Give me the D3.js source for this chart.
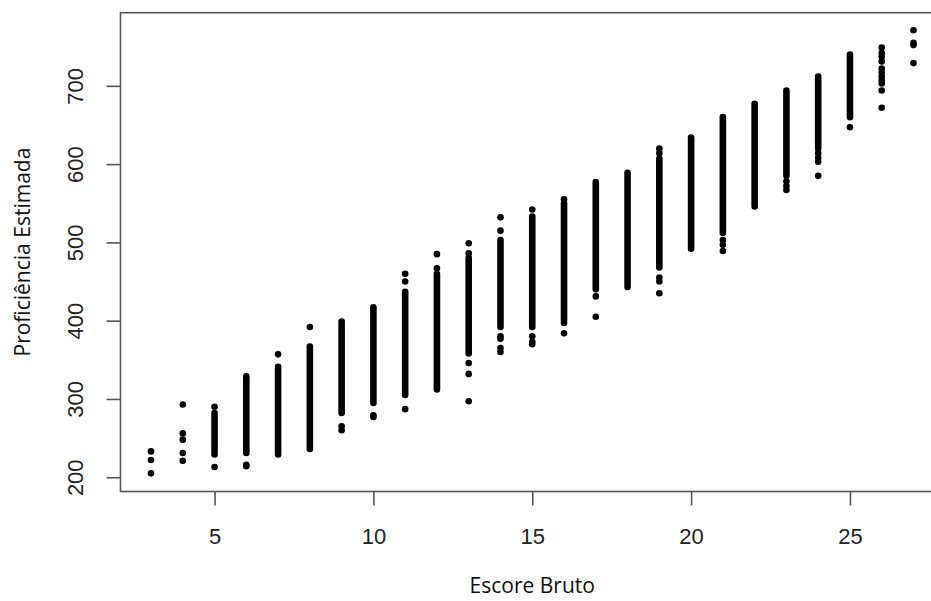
<!DOCTYPE html>
<html>
<head>
<meta charset="utf-8">
<script src="https://cdn.jsdelivr.net/npm/d3@7"></script>
<style>
  body { margin: 0; background: #fff; }
  svg { display: block; }
</style>
</head>
<body>
<svg id="chart" width="931" height="601"></svg>
<script>
// raw score on the x axis
var scores = [3, 4, 5, 6, 7, 8, 9, 10, 11, 12, 13, 14, 15, 16, 17, 18, 19, 20, 21, 22, 23, 24, 25, 26, 27];
// solid part of each column (points so packed they merge), null when none
var denseLow  = [null, null, 229, 231, 229, 236, 282, 295, 305, 312, 358, 392, 392, 400, 440, 447, 468, 492, 512, 546, 585, 620, 660, null, null];
var denseHigh = [null, null, 282, 329, 341, 367, 399, 417, 437, 460, 480, 503, 533, 550, 577, 589, 607, 634, 660, 677, 694, 712, 740, null, null];
// loose points
var loosePoints = [
  [233, 222, 205],
  [293, 256, 248, 231, 221],
  [290, 213],
  [214, 216],
  [357],
  [392],
  [265, 260],
  [279, 277],
  [460, 450, 287],
  [485, 467],
  [499, 486, 346, 332, 297],
  [532, 515, 380, 377, 365, 360],
  [542, 380, 373, 370],
  [555, 397, 384],
  [431, 405],
  [443],
  [620, 614, 455, 450, 435],
  [],
  [503, 497, 489],
  [],
  [578, 572, 567],
  [614, 608, 603, 585],
  [647],
  [749, 742, 737, 731, 722, 717, 712, 707, 703, 694, 672],
  [771, 755, 752, 729]
];
var xTicks = [5, 10, 15, 20, 25];
var yTicks = [200, 300, 400, 500, 600, 700];

var svg = d3.select("#chart");
var boxL = 120.5, boxR = 944, boxT = 12.7, boxB = 491.5;

var x = d3.scaleLinear().domain([2.04, 27.96]).range([boxL, boxR]);
var y = d3.scaleLinear().domain([181.8, 793.4]).range([boxB, boxT]);

var axisColor = "#555";
var tickFont = "'Liberation Sans', Arial, sans-serif";
var titleFont = "'Open Sans', 'Noto Sans', sans-serif";

// box
svg.append("rect")
  .attr("x", boxL).attr("y", boxT)
  .attr("width", boxR - boxL).attr("height", boxB - boxT)
  .attr("fill", "none").attr("stroke", axisColor).attr("stroke-width", 1.6);

// dense columns
var cols = scores.map(function(s, i) { return {s: s, lo: denseLow[i], hi: denseHigh[i]}; })
  .filter(function(d) { return d.lo != null; });
svg.append("g").selectAll("line")
  .data(cols)
  .enter().append("line")
  .attr("x1", function(d) { return x(d.s); })
  .attr("x2", function(d) { return x(d.s); })
  .attr("y1", function(d) { return y(d.lo); })
  .attr("y2", function(d) { return y(d.hi); })
  .attr("stroke", "#000")
  .attr("stroke-width", 6.6)
  .attr("stroke-linecap", "round");

// loose points
var pts = [];
scores.forEach(function(s, i) {
  loosePoints[i].forEach(function(v) { pts.push({s: s, v: v}); });
});
svg.append("g").selectAll("circle")
  .data(pts)
  .enter().append("circle")
  .attr("cx", function(d) { return x(d.s); })
  .attr("cy", function(d) { return y(d.v); })
  .attr("r", 3.3)
  .attr("fill", "#000");

// x axis
var xAxis = d3.axisBottom(x).tickValues(xTicks).tickSize(14).tickPadding(0);
var gx = svg.append("g").attr("transform", "translate(0," + boxB + ")").call(xAxis);
gx.select(".domain").remove();
gx.selectAll(".tick line").attr("stroke", axisColor).attr("stroke-width", 1.6);
gx.selectAll(".tick text")
  .attr("y", 52).attr("dy", null)
  .attr("fill", "#222")
  .style("font-family", tickFont).style("font-size", "22px");

// y axis
var yAxis = d3.axisLeft(y).tickValues(yTicks).tickSize(14);
var gy = svg.append("g").attr("transform", "translate(" + boxL + ",0)").call(yAxis);
gy.select(".domain").remove();
gy.selectAll(".tick line").attr("stroke", axisColor).attr("stroke-width", 1.6);
gy.selectAll(".tick text")
  .attr("x", 0).attr("dy", null)
  .attr("transform", "translate(-38,0) rotate(-90)")
  .attr("text-anchor", "middle")
  .attr("fill", "#222")
  .style("font-family", tickFont).style("font-size", "22px");

// titles
svg.append("text")
  .attr("x", (boxL + boxR) / 2).attr("y", 593)
  .attr("text-anchor", "middle")
  .attr("fill", "#111")
  .style("font-family", titleFont).style("font-size", "21px")
  .text("Escore Bruto");

svg.append("text")
  .attr("transform", "translate(30," + ((boxT + boxB) / 2) + ") rotate(-90)")
  .attr("text-anchor", "middle")
  .attr("fill", "#111")
  .style("font-family", titleFont).style("font-size", "21px")
  .text("Proficiência Estimada");
</script>
</body>
</html>
